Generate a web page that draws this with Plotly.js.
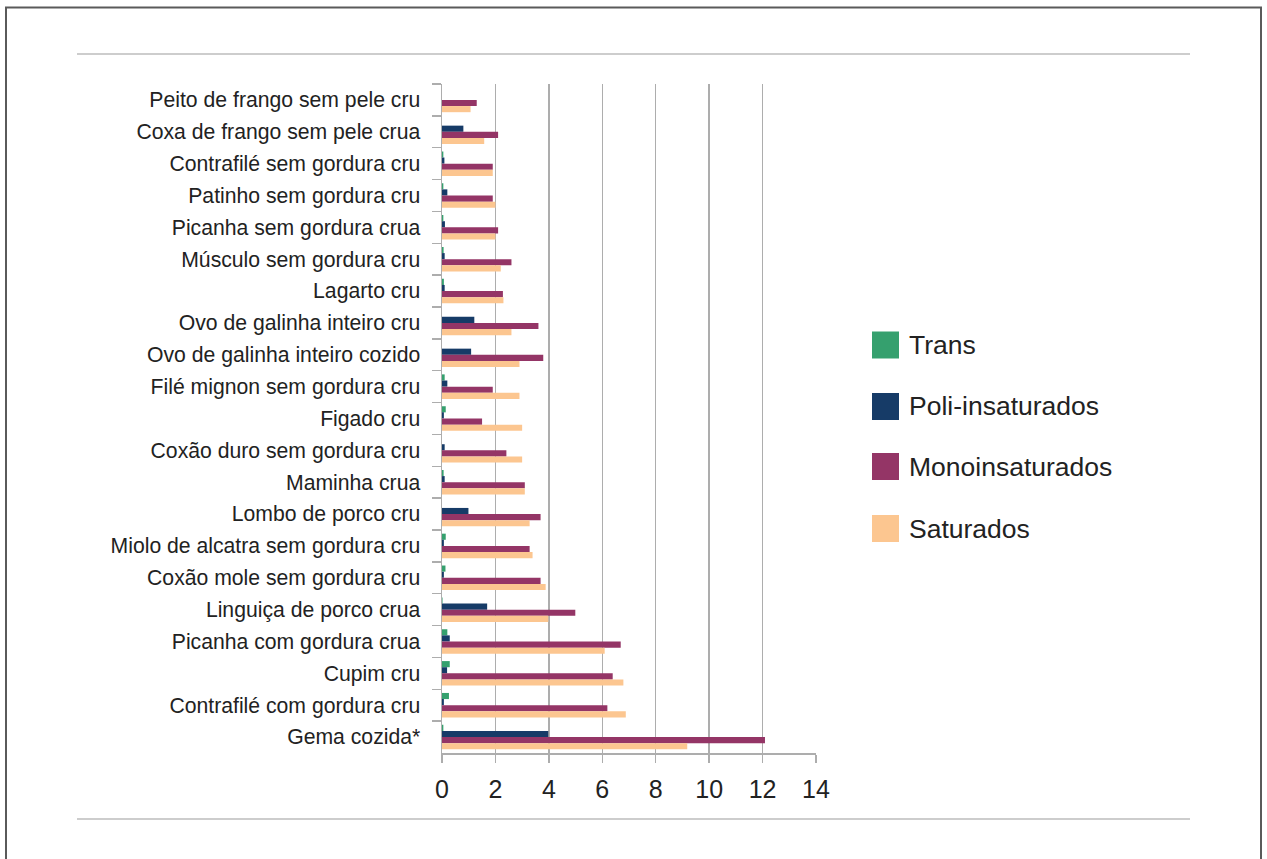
<!DOCTYPE html>
<html>
<head>
<meta charset="utf-8">
<script src="https://cdn.plot.ly/plotly-3.0.1.min.js"></script>
<style>
html,body{margin:0;padding:0;background:#fff;}
#chart{width:1267px;height:859px;}
</style>
</head>
<body>
<div id="chart"></div>
<script>
var categories = [
  "Peito de frango sem pele cru",
  "Coxa de frango sem pele crua",
  "Contrafilé sem gordura cru",
  "Patinho sem gordura cru",
  "Picanha sem gordura crua",
  "Músculo sem gordura cru",
  "Lagarto cru",
  "Ovo de galinha inteiro cru",
  "Ovo de galinha inteiro cozido",
  "Filé mignon sem gordura cru",
  "Figado cru",
  "Coxão duro sem gordura cru",
  "Maminha crua",
  "Lombo de porco cru",
  "Miolo de alcatra sem gordura cru",
  "Coxão mole sem gordura cru",
  "Linguiça de porco crua",
  "Picanha com gordura crua",
  "Cupim cru",
  "Contrafilé com gordura cru",
  "Gema cozida*"
];
var trans = [0, 0, 0.05, 0.05, 0.05, 0.06, 0.07, 0, 0, 0.1, 0.14, 0, 0.06, 0, 0.14, 0.13, 0.02, 0.2, 0.29, 0.26, 0.05];
var poli  = [0, 0.8, 0.09, 0.2, 0.11, 0.1, 0.1, 1.21, 1.09, 0.2, 0.07, 0.1, 0.1, 0.99, 0.07, 0.07, 1.69, 0.29, 0.19, 0.07, 3.98];
var mono  = [1.3, 2.1, 1.9, 1.9, 2.1, 2.6, 2.28, 3.61, 3.79, 1.9, 1.5, 2.41, 3.1, 3.69, 3.28, 3.69, 4.99, 6.69, 6.39, 6.19, 12.09];
var sat   = [1.07, 1.58, 1.9, 2.0, 2.0, 2.2, 2.3, 2.6, 2.9, 2.9, 3.0, 3.0, 3.1, 3.28, 3.39, 3.88, 3.98, 6.09, 6.79, 6.88, 9.18];
var seriesNames = ["Trans", "Poli-insaturados", "Monoinsaturados", "Saturados"];
var seriesColors = ["#35a06e", "#163b67", "#943566", "#fcc690"];
var xTicks = [0, 2, 4, 6, 8, 10, 12, 14];

var W = 1267, H = 859;
var L = 442, R = 816, T = 84, B = 753;
function px(x){ return (x - L) / (R - L); }
function py(y){ return (B - y) / (B - T); }

var seriesValues = [trans, poli, mono, sat];
var traces = seriesValues.map(function(v, i){
  return {
    type: "bar", orientation: "h",
    x: v, y: categories, name: seriesNames[i],
    marker: {color: seriesColors[i], line: {width: 0}},
    showlegend: false, hoverinfo: "x+y+name"
  };
});

var shapes = [
  // outer frame
  {type:"line", xref:"paper", yref:"paper", x0:px(6), x1:px(6), y0:py(7), y1:py(880), line:{color:"#5a5a5a", width:2}},
  {type:"line", xref:"paper", yref:"paper", x0:px(5), x1:px(1262), y0:py(7.5), y1:py(7.5), line:{color:"#5a5a5a", width:2}},
  {type:"line", xref:"paper", yref:"paper", x0:px(1261), x1:px(1261), y0:py(7), y1:py(880), line:{color:"#5a5a5a", width:2}},
  // separators
  {type:"line", xref:"paper", yref:"paper", x0:px(77), x1:px(1190), y0:py(54), y1:py(54), line:{color:"#bdbdbd", width:1.5}},
  {type:"line", xref:"paper", yref:"paper", x0:px(77), x1:px(1190), y0:py(819), y1:py(819), line:{color:"#bdbdbd", width:1.5}}
];
var annotations = [];
var legendY = [345, 406.5, 466.5, 528.5];
seriesNames.forEach(function(n, i){
  shapes.push({type:"rect", xref:"paper", yref:"paper",
    x0:px(872), x1:px(899), y0:py(legendY[i]-13.5), y1:py(legendY[i]+13.5),
    fillcolor: seriesColors[i], line:{width:0}});
  annotations.push({xref:"paper", yref:"paper", x:px(907), y:py(legendY[i]), xanchor:"left", yanchor:"middle",
    text:n, showarrow:false, font:{size:26.5, color:"#222", family:"Liberation Sans, Arial, sans-serif"}});
});

var layout = {
  width: W, height: H,
  margin: {l: L, r: W - R, t: T, b: H - B, pad: 0},
  paper_bgcolor: "#fff", plot_bgcolor: "#fff",
  font: {family: "Liberation Sans, Arial, sans-serif", color: "#222"},
  barmode: "group", bargap: 0.23, bargroupgap: 0,
  showlegend: false,
  xaxis: {
    range: [0, 14], tickvals: xTicks, ticktext: xTicks.map(String),
    showgrid: true, gridcolor: "#adadad", gridwidth: 1.5,
    zeroline: false, showline: true, linecolor: "#adadad", linewidth: 1.5,
    ticks: "outside", ticklen: 8, tickcolor: "#adadad", tickwidth: 1.5,
    tickfont: {size: 25, color: "#222"}, ticklabelstandoff: 5, fixedrange: true
  },
  yaxis: {
    type: "category", autorange: "reversed",
    tickson: "boundaries", ticks: "outside", ticklen: 9, tickcolor: "#adadad", tickwidth: 1.5,
    showgrid: false, zeroline: false, showline: true, linecolor: "#adadad", linewidth: 1.5,
    tickfont: {size: 21.2, color: "#222"}, ticklabelstandoff: 16, fixedrange: true
  },
  shapes: shapes,
  annotations: annotations
};

Plotly.newPlot("chart", traces, layout, {displayModeBar: false, staticPlot: true});
</script>
</body>
</html>
